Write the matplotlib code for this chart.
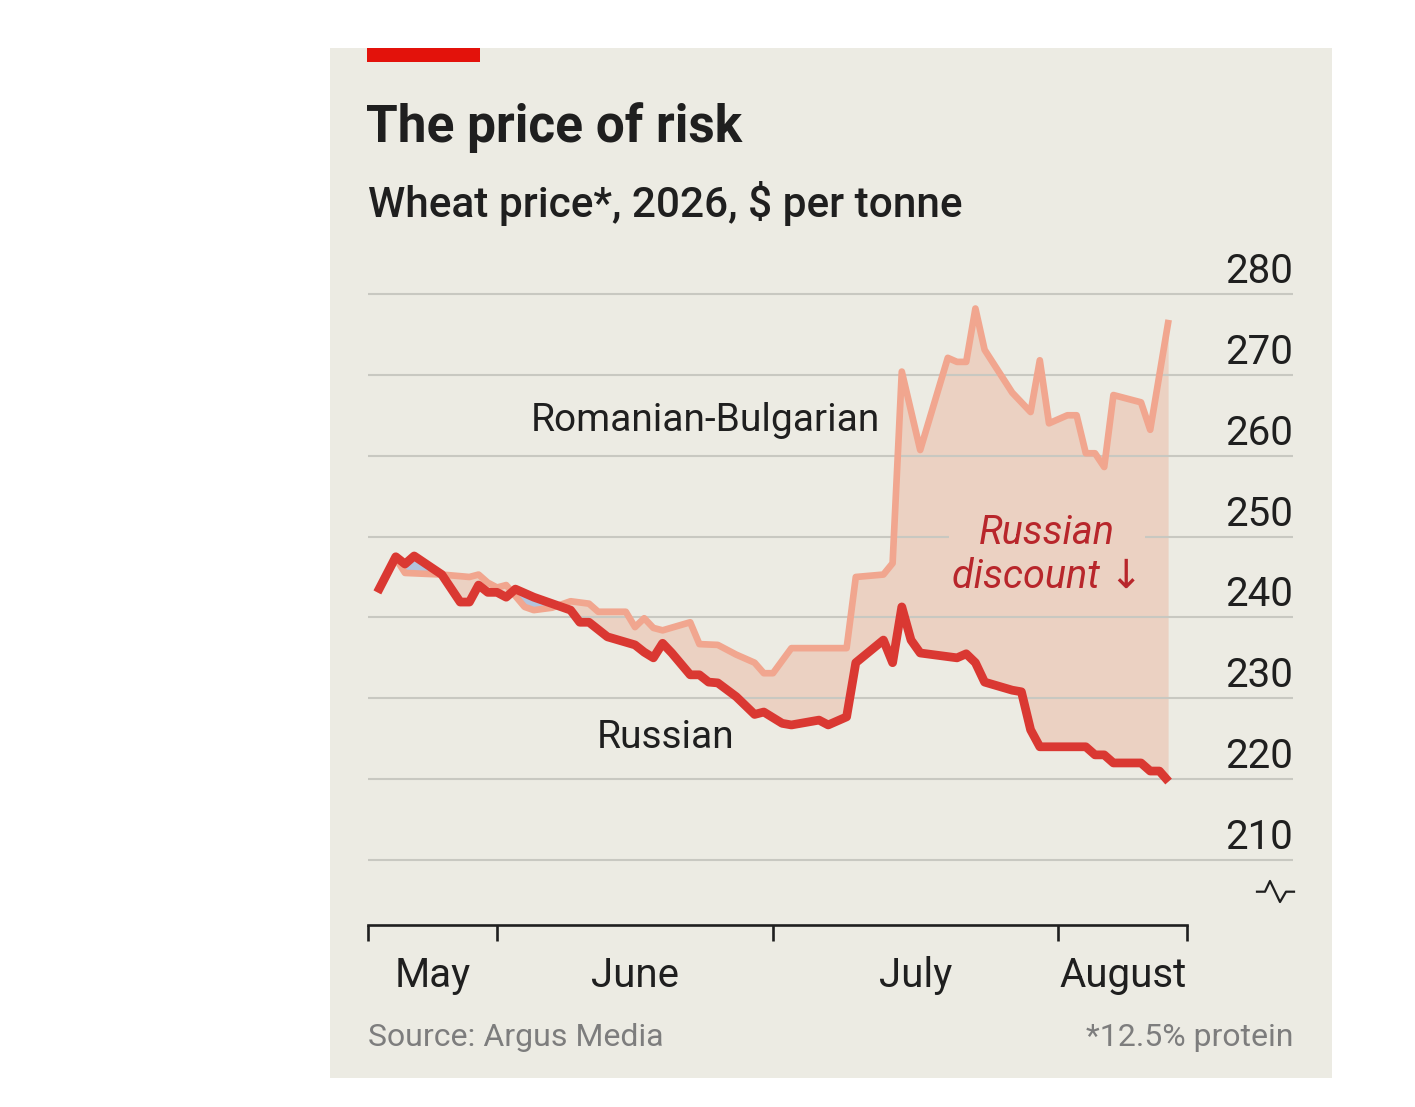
import matplotlib
matplotlib.use('Agg')
import matplotlib.pyplot as plt
import matplotlib.dates as mdates
import matplotlib.transforms as mtransforms
from matplotlib.patches import Rectangle
import numpy as np

# Russian wheat price, $ per tonne
ru_dates = ['2026-05-19', '2026-05-21', '2026-05-22', '2026-05-23', '2026-05-26', '2026-05-28',
            '2026-05-29', '2026-05-30', '2026-05-31', '2026-06-01', '2026-06-02', '2026-06-03',
            '2026-06-05', '2026-06-08', '2026-06-09', '2026-06-10', '2026-06-11', '2026-06-13',
            '2026-06-16', '2026-06-17', '2026-06-18', '2026-06-19', '2026-06-20', '2026-06-22',
            '2026-06-23', '2026-06-24', '2026-06-25', '2026-06-27', '2026-06-29', '2026-06-30',
            '2026-07-02', '2026-07-03', '2026-07-06', '2026-07-07', '2026-07-09', '2026-07-10',
            '2026-07-13', '2026-07-14', '2026-07-15', '2026-07-16', '2026-07-17', '2026-07-21',
            '2026-07-22', '2026-07-23', '2026-07-24', '2026-07-27', '2026-07-28', '2026-07-29',
            '2026-07-30', '2026-08-04', '2026-08-05', '2026-08-06', '2026-08-07', '2026-08-10',
            '2026-08-11', '2026-08-12', '2026-08-13']
ru_price = [243.1, 247.5, 246.6, 247.6, 245.3, 241.9,
            241.9, 244.0, 243.1, 243.1, 242.5, 243.5,
            242.5, 241.3, 240.9, 239.4, 239.4, 237.6,
            236.6, 235.7, 235.0, 236.8, 235.6, 232.9,
            232.9, 232.0, 231.9, 230.2, 228.0, 228.3,
            226.9, 226.7, 227.3, 226.7, 227.7, 234.4,
            237.2, 234.4, 241.3, 237.2, 235.6, 235.0,
            235.5, 234.4, 232.0, 231.0, 230.8, 226.1,
            224.0, 224.0, 223.0, 223.0, 222.0, 222.0,
            221.0, 221.0, 219.7]

# Romanian-Bulgarian wheat price, $ per tonne
rb_dates = ['2026-05-19', '2026-05-21', '2026-05-22', '2026-05-26', '2026-05-29', '2026-05-30',
            '2026-05-31', '2026-06-01', '2026-06-02', '2026-06-04', '2026-06-05', '2026-06-07',
            '2026-06-09', '2026-06-11', '2026-06-12', '2026-06-15', '2026-06-16', '2026-06-17',
            '2026-06-18', '2026-06-19', '2026-06-22', '2026-06-23', '2026-06-25', '2026-06-27',
            '2026-06-29', '2026-06-30', '2026-07-01', '2026-07-03', '2026-07-09', '2026-07-10',
            '2026-07-13', '2026-07-14', '2026-07-15', '2026-07-17', '2026-07-20', '2026-07-21',
            '2026-07-22', '2026-07-23', '2026-07-24', '2026-07-27', '2026-07-29', '2026-07-30',
            '2026-07-31', '2026-08-02', '2026-08-03', '2026-08-04', '2026-08-05', '2026-08-06',
            '2026-08-07', '2026-08-10', '2026-08-11', '2026-08-13']
rb_price = [243.1, 247.3, 245.5, 245.3, 245.0, 245.3,
            244.3, 243.7, 244.0, 241.3, 240.9, 241.2,
            242.0, 241.7, 240.7, 240.7, 238.8, 239.9,
            238.7, 238.4, 239.4, 236.7, 236.6, 235.4,
            234.4, 233.1, 233.1, 236.2, 236.2, 245.0,
            245.3, 246.7, 270.4, 260.7, 272.1, 271.6,
            271.6, 278.2, 273.1, 267.8, 265.4, 271.8,
            264.0, 265.0, 265.0, 260.3, 260.3, 258.6,
            267.5, 266.6, 263.2, 276.8]

y_ticks = [210, 220, 230, 240, 250, 260, 270, 280]
month_edges = ['2026-05-18', '2026-06-01', '2026-07-01', '2026-08-01', '2026-08-15']
month_names = ['May', 'June', 'July', 'August']

BG = '#ECEBE3'
RED = '#E3120B'
RU_COL = '#DA3832'
RB_COL = '#F1A68F'
FILL_COL = '#EBD1C2'
BLUE = '#B3C4DD'
GRID = '#C8C8C1'
DARK = '#1F1F1F'

plt.rcParams['font.family'] = ['Roboto', 'DejaVu Sans']

W, H = 1415, 1107
fig = plt.figure(figsize=(W / 100, H / 100), dpi=100)
fig.patch.set_facecolor('white')

def fx(px):
    return px / W

def fy(py):
    return (H - py) / H

# panel and red tag
fig.add_artist(Rectangle((fx(330), fy(1078)), fx(1332) - fx(330), fy(48) - fy(1078),
                         transform=fig.transFigure, facecolor=BG, edgecolor='none', zorder=-10))
fig.add_artist(Rectangle((fx(367), fy(62)), fx(480) - fx(367), fy(48) - fy(62),
                         transform=fig.transFigure, facecolor=RED, edgecolor='none', zorder=-5))

fig.text(fx(366), fy(142), 'The price of risk', fontsize=37, fontweight='bold', color=DARK)
fig.text(fx(368), fy(217), 'Wheat price*, 2026, $ per tonne', fontsize=30.5,
         fontweight='medium', color=DARK)

# axes box: left 368px, right 1293px, bottom 925px, top 277.8px
ax = fig.add_axes([fx(368), fy(925), fx(1293) - fx(368), fy(277.8) - fy(925)])
ax.set_facecolor('none')

ru_x = mdates.date2num(np.array(ru_dates, dtype='datetime64[D]'))
rb_x = mdates.date2num(np.array(rb_dates, dtype='datetime64[D]'))
ru_y = np.array(ru_price)
rb_y = np.array(rb_price)

# shading between the two series on a common grid of observed dates
grid_x = np.union1d(ru_x, rb_x)
ru_g = np.interp(grid_x, ru_x, ru_y)
rb_g = np.interp(grid_x, rb_x, rb_y)
ax.fill_between(grid_x, ru_g, rb_g, where=rb_g >= ru_g, interpolate=True,
                facecolor=FILL_COL, edgecolor='none', zorder=1)
ax.fill_between(grid_x, ru_g, rb_g, where=ru_g > rb_g, interpolate=True,
                facecolor=BLUE, edgecolor='none', zorder=1)

ax.plot(rb_x, rb_y, color=RB_COL, lw=4.8, solid_joinstyle='round',
        solid_capstyle='butt', zorder=3)
ax.plot(ru_x, ru_y, color=RU_COL, lw=6.3, solid_joinstyle='round',
        solid_capstyle='butt', zorder=4)

edges = mdates.date2num(np.array(month_edges, dtype='datetime64[D]'))
june1 = mdates.date2num(np.datetime64('2026-06-01'))
ax.set_xlim(june1 - 14.02, june1 + 86.52)
ax.set_ylim(201.96, 282)

# gridlines
ax.set_yticks(y_ticks)
ax.yaxis.grid(True, color=GRID, lw=1.5)
ax.set_axisbelow('line')
ax.tick_params(axis='y', length=0, labelleft=False)
ytr = mtransforms.blended_transform_factory(ax.transAxes, ax.transData)
for v in y_ticks:
    ax.text(1.0, v + 1.35, str(v), transform=ytr, ha='right', va='baseline',
            fontsize=29, color=DARK)

# x axis
for s in ['top', 'right', 'left']:
    ax.spines[s].set_visible(False)
ax.spines['bottom'].set_bounds(edges[0], edges[-1])
ax.spines['bottom'].set_linewidth(1.9)
ax.spines['bottom'].set_color(DARK)
ax.set_xticks(edges)
ax.set_xticklabels([])
ax.tick_params(axis='x', length=11.5, width=1.9, color=DARK, direction='out')
xtr = mtransforms.blended_transform_factory(ax.transData, ax.transAxes)
for a, b, name in zip(edges[:-1], edges[1:], month_names):
    ax.text((a + b) / 2, (925 - 987) / (925 - 277.8), name, transform=xtr,
            ha='center', va='baseline', fontsize=29, color=DARK)

# series labels
ax.text(june1 + 22.7, 263.0, 'Romanian-Bulgarian', ha='center', va='baseline',
        fontsize=28, color=DARK, zorder=6)
ax.text(june1 + 18.3, 223.9, 'Russian', ha='center', va='baseline',
        fontsize=28, color=DARK, zorder=6)
ax.text(june1 + 59.8, 247.8, 'Russian\ndiscount \u2193', ha='center', va='center',
        fontsize=28.5, style='italic', color='#B8262B', linespacing=1.18, zorder=5,
        bbox=dict(facecolor=FILL_COL, edgecolor='none', pad=2))

# broken-axis mark
def ax_pt(px, py):
    return (px - 368) / (1293 - 368), (925 - py) / (925 - 277.8)

zig = [ax_pt(*p) for p in [(1257, 891.7), (1265, 891.7), (1270, 881), (1280, 902),
                           (1286, 891.7), (1294, 891.7)]]
ax.plot([p[0] for p in zig], [p[1] for p in zig], transform=ax.transAxes,
        color=DARK, lw=1.6, clip_on=False)

fig.text(fx(368), fy(1046), 'Source: Argus Media', fontsize=23, color='#7D7D7D')
fig.text(fx(1293), fy(1046), '*12.5% protein', fontsize=23, color='#7D7D7D', ha='right')

fig.savefig('out.png', dpi=100, facecolor='white')
